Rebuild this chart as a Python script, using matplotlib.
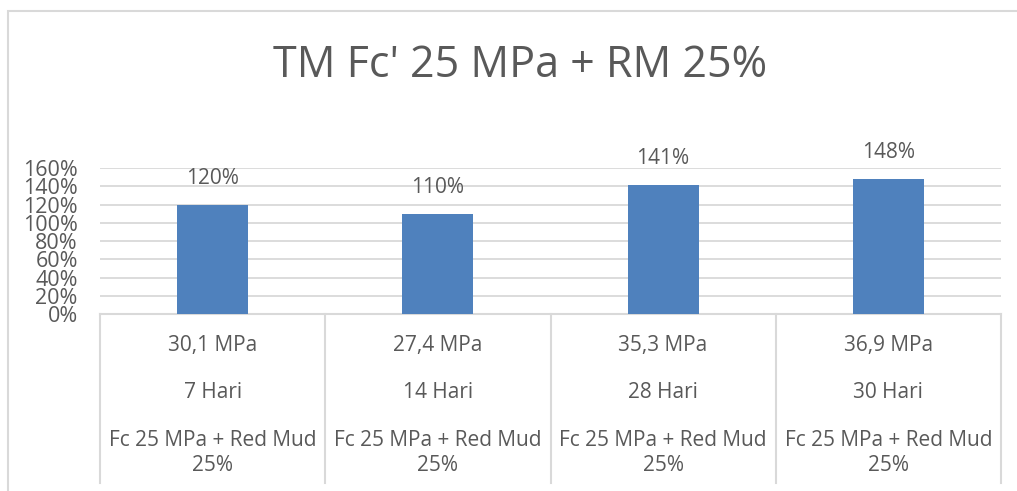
import matplotlib.pyplot as plt
from matplotlib.transforms import blended_transform_factory
from matplotlib.patches import Rectangle

plt.rcParams['font.family'] = ['Open Sans', 'DejaVu Sans']

title = "TM Fc' 25 MPa + RM 25%"
strength = ['30,1 MPa', '27,4 MPa', '35,3 MPa', '36,9 MPa']
days = ['7 Hari', '14 Hari', '28 Hari', '30 Hari']
mix = ['Fc 25 MPa + Red Mud\n25%'] * 4
ratio = [120, 110, 141, 148]
yticks = [0, 20, 40, 60, 80, 100, 120, 140, 160]

text_col = '#595959'
grid_col = '#d9d9d9'
bar_col = '#4f81bd'

fig = plt.figure(figsize=(10.17, 4.91), dpi=100)
ax = fig.add_axes([100 / 1017, 1 - 314 / 491, 901 / 1017, 146 / 491])

x = list(range(len(ratio)))
ax.bar(x, ratio, width=0.315, color=bar_col, zorder=3)
ax.set_xlim(-0.5, len(ratio) - 0.5)
ax.set_ylim(0, 160)

ax.set_yticks(yticks)
ax.set_yticklabels([f'{t}%' for t in yticks], fontsize=15.5, color=text_col,
                   linespacing=0.9)
ax.tick_params(axis='y', length=0, pad=16)
ax.tick_params(axis='x', length=0, labelbottom=False)
for t in yticks[1:]:
    ax.axhline(t, color=grid_col, lw=1.3, zorder=1)
for s in ax.spines.values():
    s.set_visible(False)

# value labels above the bars
for xi, v in zip(x, ratio):
    ax.annotate(f'{v}%', (xi, v), xytext=(0, 19), textcoords='offset points',
                ha='center', va='center', fontsize=15, color=text_col,
                annotation_clip=False)

# multi-level category axis
tr = blended_transform_factory(ax.transData, fig.transFigure)
y_top = 1 - 314 / 491
y_bot = 1 - 483 / 491
ax.plot([-0.5, len(ratio) - 0.5], [y_top, y_top], transform=tr,
        color=grid_col, lw=1.5, clip_on=False)
for b in range(len(ratio) + 1):
    ax.plot([b - 0.5, b - 0.5], [y_top, y_bot], transform=tr,
            color=grid_col, lw=1.5, clip_on=False)
for xi in x:
    ax.text(xi, 1 - 346 / 491, strength[xi], transform=tr, ha='center',
            va='center', fontsize=15, color=text_col)
    ax.text(xi, 1 - 393 / 491, days[xi], transform=tr, ha='center',
            va='center', fontsize=15, color=text_col)
    ax.text(xi, 1 - 453 / 491, mix[xi], transform=tr, ha='center',
            va='center', fontsize=15, color=text_col, linespacing=1.3)

fig.text(520 / 1017, 1 - 77 / 491, title, ha='center', va='baseline',
         fontsize=31, color=text_col)

# chart frame
fig.patches.append(Rectangle((8 / 1017, -0.1), 1.1, 1 - 11 / 491 + 0.1,
                             transform=fig.transFigure, fill=False,
                             edgecolor=grid_col, lw=1.5))

fig.savefig('out.png', dpi=100)
